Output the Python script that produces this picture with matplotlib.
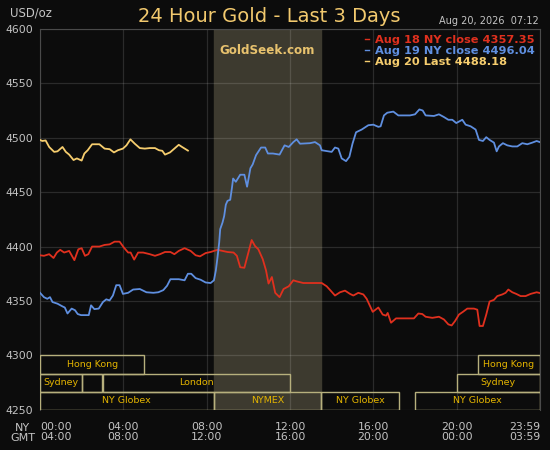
# 24 hour gold chart, last 3 days (GoldSeek style)
import matplotlib
matplotlib.use("Agg")
import matplotlib.pyplot as plt
from matplotlib.patches import Rectangle

# hours since NY midnight and prices
aug18_hours = [0.00, 0.19, 0.44, 0.65, 0.81, 0.97, 1.16, 1.40, 1.65, 1.84, 2.00, 2.16,
               2.32, 2.50, 2.85, 3.10, 3.34, 3.58, 3.82, 4.03, 4.23, 4.35, 4.52, 4.71,
               4.95, 5.27, 5.52, 5.76, 6.00, 6.26, 6.45, 6.66, 6.94, 7.23, 7.47, 7.68,
               7.95, 8.19, 8.52, 8.76, 9.00, 9.29, 9.45, 9.61, 9.81, 9.94, 10.16, 10.32,
               10.48, 10.69, 10.85, 10.97, 11.13, 11.29, 11.50, 11.69, 11.94, 12.16, 12.32,
               12.64, 12.96, 13.52, 13.76, 13.95, 14.16, 14.40, 14.64, 14.88, 15.04, 15.28,
               15.52, 15.68, 15.97, 16.24, 16.45, 16.61, 16.69, 16.85, 17.09, 17.44, 17.95,
               18.16, 18.35, 18.51, 18.83, 19.15, 19.39, 19.60, 19.76, 19.92, 20.11, 20.30,
               20.51, 20.83, 20.99, 21.10, 21.26, 21.42, 21.58, 21.79, 21.95, 22.19, 22.35,
               22.48, 22.67, 22.86, 23.07, 23.31, 23.55, 23.84, 23.98]
aug18_prices = [4392, 4391.5, 4393, 4389.5, 4394.5, 4397, 4394.5, 4396, 4387.5, 4397.5, 4398.5, 4391.5,
                4393, 4400, 4400, 4401.5, 4402, 4404.5, 4404.5, 4399, 4394.5, 4394.5, 4388, 4394.5,
                4394.5, 4393, 4391.5, 4393, 4395, 4395, 4393, 4396, 4398.5, 4396, 4392, 4391,
                4394, 4395, 4397, 4396, 4395, 4394.5, 4391.5, 4381, 4380.5, 4390, 4406, 4400.5,
                4397.5, 4388.5, 4378, 4366, 4372, 4357.5, 4353.5, 4361, 4363.5, 4369, 4368,
                4366.5, 4366.5, 4366.5, 4363.5, 4359.5, 4355, 4358, 4359.5, 4356.5, 4355, 4357.5,
                4356, 4352, 4340, 4344, 4337.5, 4336.5, 4339, 4330, 4334, 4334, 4334,
                4338.5, 4338, 4335.5, 4334.5, 4335.5, 4333, 4328.5, 4327.5, 4331.5, 4337.5, 4340,
                4343, 4343, 4342, 4327, 4327, 4337.5, 4349.5, 4351, 4354.5, 4356, 4357.5,
                4360.5, 4358, 4356.5, 4354.5, 4354.5, 4356.5, 4358, 4357.35]

aug19_hours = [0.00, 0.19, 0.35, 0.48, 0.60, 0.84, 1.08, 1.19, 1.32, 1.52, 1.68, 1.81, 1.97,
               2.34, 2.45, 2.61, 2.82, 3.02, 3.18, 3.34, 3.50, 3.66, 3.82, 3.98, 4.23, 4.47,
               4.79, 5.11, 5.44, 5.68, 5.92, 6.10, 6.26, 6.66, 6.94, 7.10, 7.26, 7.47, 7.71,
               7.95, 8.19, 8.35, 8.44, 8.52, 8.60, 8.65, 8.76, 8.84, 8.92, 9.00, 9.13, 9.21,
               9.27, 9.40, 9.61, 9.81, 9.94, 10.10, 10.21, 10.37, 10.61, 10.81, 10.94, 11.18,
               11.50, 11.74, 11.94, 12.16, 12.32, 12.48, 12.96, 13.20, 13.44, 13.52, 14.00,
               14.16, 14.32, 14.48, 14.69, 14.85, 15.00, 15.17, 15.44, 15.76, 16.00, 16.24,
               16.35, 16.51, 16.67, 16.96, 17.20, 17.76, 18.00, 18.21, 18.37, 18.51, 18.91,
               19.15, 19.39, 19.60, 19.79, 19.98, 20.27, 20.43, 20.67, 20.91, 21.07, 21.26,
               21.42, 21.58, 21.79, 21.92, 22.03, 22.22, 22.43, 22.67, 22.91, 23.15, 23.39,
               23.63, 23.84, 23.98]
aug19_prices = [4357.5, 4353.5, 4352, 4353.5, 4349, 4347.5, 4345, 4344, 4338.5, 4343, 4341.5, 4338, 4337,
                4337, 4346, 4342.5, 4343, 4349, 4351.5, 4350.5, 4355, 4364.5, 4364.5, 4356.5, 4357.5, 4360.5,
                4361, 4358, 4357.5, 4358, 4360, 4364, 4370, 4370, 4369, 4375, 4375, 4371, 4369.5,
                4367, 4366.5, 4369, 4378, 4390, 4403.5, 4416, 4422, 4428, 4438.5, 4442, 4443, 4453.5,
                4462.5, 4459.5, 4466, 4466, 4455, 4472, 4475.5, 4484, 4491, 4491, 4485.5, 4485.5,
                4484.5, 4493, 4491.5, 4496, 4498.5, 4494.5, 4495, 4496, 4493, 4488.5, 4487,
                4491, 4490, 4481, 4478.5, 4482.5, 4494.5, 4505, 4507.5, 4511.5, 4512, 4510,
                4510.5, 4520.5, 4523, 4524, 4520.5, 4520.5, 4521.5, 4526, 4525, 4520.5, 4520,
                4521.5, 4519, 4516.5, 4516.5, 4513.5, 4516.5, 4512, 4510.5, 4507.5, 4498, 4497,
                4500.5, 4498, 4495.5, 4487.5, 4492, 4495, 4493, 4492, 4492, 4495, 4494,
                4495.5, 4497, 4496.04]

aug20_hours = [0.00, 0.11, 0.27, 0.44, 0.68, 0.84, 1.08, 1.24, 1.40, 1.61, 1.77, 2.00, 2.13,
               2.29, 2.50, 2.85, 3.10, 3.34, 3.55, 3.74, 3.98, 4.15, 4.34, 4.55, 4.79, 5.03,
               5.27, 5.52, 5.71, 5.87, 6.00, 6.24, 6.42, 6.66, 6.82, 7.10]
aug20_prices = [4498, 4497, 4497.5, 4491.5, 4487, 4487.5, 4491.5, 4487, 4484.5, 4479.5, 4481, 4479, 4485.5,
                4488.5, 4494, 4494, 4490, 4489.5, 4486.5, 4488.5, 4490, 4493, 4498.5, 4494.5, 4490.5, 4490,
                4490.5, 4490.5, 4488.5, 4488, 4484.5, 4486.5, 4489.5, 4493.5, 4491.5, 4488.18]

series_labels = ["Aug 18 NY close 4357.35", "Aug 19 NY close 4496.04", "Aug 20 Last 4488.18"]
series_colors = ["#e0301e", "#5f8fe0", "#f6cd6e"]

# trading sessions: (name, start hour, end hour, row) row 0 = top
sessions = [
    ("Hong Kong", 0, 5, 0), ("Hong Kong", 21, 24, 0),
    ("Sydney", 0, 2, 1), ("", 2, 3, 1), ("London", 3, 12, 1), ("Sydney", 20, 24, 1),
    ("NY Globex", 0, 8.333, 2), ("NYMEX", 8.333, 13.5, 2),
    ("NY Globex", 13.5, 17.25, 2), ("NY Globex", 18, 24, 2),
]
nymex_start, nymex_end = 8.333, 13.5

tick_hours = [0, 4, 8, 12, 16, 20, 24]
ny_labels = ["00:00", "04:00", "08:00", "12:00", "16:00", "20:00", "23:59"]
gmt_labels = ["04:00", "08:00", "12:00", "16:00", "20:00", "00:00", "03:59"]
y_ticks = [4250, 4300, 4350, 4400, 4450, 4500, 4550, 4600]

BG = "#0c0c0c"
GRAY = "#c4c4c4"

fig = plt.figure(figsize=(5.5, 4.5), dpi=100, facecolor=BG)
ax = fig.add_axes([40 / 550, 40.2 / 450, 500 / 550, 380.9 / 450])
ax.set_facecolor(BG)

ax.axvspan(nymex_start, nymex_end, color="#3d3a2f", zorder=0)
ax.grid(True, color="white", alpha=0.13, linewidth=0.9, zorder=1)
ax.set_axisbelow(True)

for hrs, prices, lab, col in zip([aug18_hours, aug19_hours, aug20_hours],
                                 [aug18_prices, aug19_prices, aug20_prices],
                                 series_labels, series_colors):
    ax.plot(hrs, prices, color=col, linewidth=1.3, label=lab, zorder=3)

# session boxes along the bottom
row_h = 50 / 3
for name, x0, x1, row in sessions:
    y0 = 4300 - (row + 1) * row_h
    ax.add_patch(Rectangle((x0, y0), x1 - x0, row_h, fill=False,
                           edgecolor="#b7b07d", linewidth=1.0, zorder=4))
    if name:
        ax.text((x0 + x1) / 2, y0 + row_h / 2, name, color="#e4b400",
                fontsize=6.8, ha="center", va="center", zorder=5)

ax.set_xlim(0, 24)
ax.set_ylim(4250, 4600)
ax.set_yticks(y_ticks)
ax.set_xticks(tick_hours)
ax.set_xticklabels([a + "\n" + b for a, b in zip(ny_labels, gmt_labels)],
                   linespacing=0.95)
ax.tick_params(axis="both", length=0, colors=GRAY, labelsize=7.8)
ax.tick_params(axis="y", pad=5)
ax.tick_params(axis="x", pad=9)
xl = ax.get_xticklabels()
xl[0].set_horizontalalignment("left")
xl[-1].set_horizontalalignment("right")

for side in ["left", "right", "top"]:
    ax.spines[side].set_color("#4a4a4a")
ax.spines["bottom"].set_visible(False)

leg = ax.legend(loc="upper right", frameon=False, handlelength=0.35,
                handletextpad=0.45, labelspacing=0.12, borderaxespad=0.1,
                prop={"weight": "bold", "size": 8.2}, labelcolor="linecolor")
for h in leg.legend_handles:
    h.set_linewidth(1.0)

ax.text((nymex_start + nymex_end) / 2, 4580, "GoldSeek.com", color="#e8c26e",
        fontsize=8.6, fontweight="bold", ha="center", va="center", zorder=5)

fig.text(269.5 / 550, 0.951, "24 Hour Gold - Last 3 Days", color="#f2c96e",
         fontsize=14, ha="center", va="baseline")
fig.text(10 / 550, 0.963, "USD/oz", color=GRAY, fontsize=8.4, ha="left", va="baseline")
fig.text(539 / 550, 0.946, "Aug 20, 2026  07:12", color=GRAY, fontsize=7,
         ha="right", va="baseline")
fig.text(22.5 / 550, 1 - 441 / 450, "NY\nGMT", color=GRAY, fontsize=8,
         ha="center", va="baseline", linespacing=0.95)

fig.savefig("out.png", dpi=100, facecolor=BG)
